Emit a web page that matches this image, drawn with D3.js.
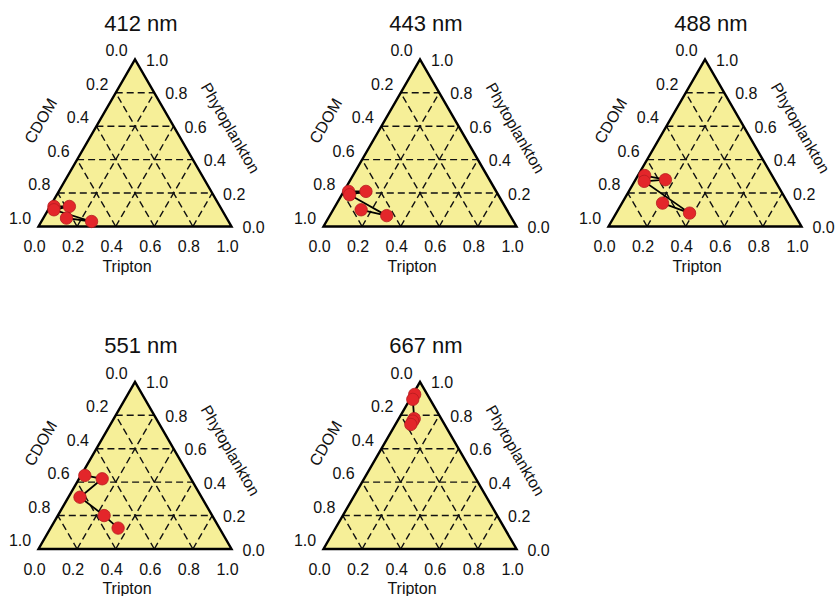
<!DOCTYPE html>
<html>
<head>
<meta charset="utf-8">
<script src="https://cdn.jsdelivr.net/npm/d3@7"></script>
<style>
  html, body { margin: 0; padding: 0; background: #ffffff; }
  svg { display: block; }
  text { font-family: "Liberation Sans", Arial, sans-serif; fill: #111; }
</style>
</head>
<body>
<svg id="chart" width="837" height="596"></svg>
<script>
// ---------------- data ----------------
const wavelengths = ["412 nm", "443 nm", "488 nm", "551 nm", "667 nm"];
const tickValues = [0, 0.2, 0.4, 0.6, 0.8, 1.0];
const tickLabels = ["0.0", "0.2", "0.4", "0.6", "0.8", "1.0"];
const axisNames = ["CDOM", "Tripton", "Phytoplankton"];

// fractions of absorption (CDOM, Tripton, Phytoplankton) per wavelength, in path order
const cdom412 = [0.86, 0.78, 0.87, 0.71, 0.83];
const tripton412 = [0.02, 0.10, 0.03, 0.26, 0.12];
const phyto412 = [0.12, 0.12, 0.10, 0.03, 0.05];

const cdom443 = [0.765, 0.675, 0.77, 0.64, 0.755];
const tripton443 = [0.025, 0.115, 0.04, 0.295, 0.145];
const phyto443 = [0.21, 0.21, 0.19, 0.065, 0.10];

const cdom488 = [0.66, 0.565, 0.68, 0.54, 0.65];
const tripton488 = [0.035, 0.155, 0.05, 0.38, 0.21];
const phyto488 = [0.305, 0.28, 0.27, 0.08, 0.14];

const cdom551 = [0.54, 0.46, 0.63, 0.56, 0.525];
const tripton551 = [0.02, 0.12, 0.06, 0.24, 0.35];
const phyto551 = [0.44, 0.42, 0.31, 0.20, 0.125];

const cdom667 = [0.065, 0.09, 0.14, 0.155, 0.175];
const tripton667 = [0.01, 0.015, 0.08, 0.08, 0.08];
const phyto667 = [0.925, 0.895, 0.78, 0.765, 0.745];

const seriesTripton = [tripton412, tripton443, tripton488, tripton551, tripton667];
const seriesPhyto = [phyto412, phyto443, phyto488, phyto551, phyto667];
const seriesCdom = [cdom412, cdom443, cdom488, cdom551, cdom667];

// ---------------- layout ----------------
const panelCx = [135, 420, 705, 135, 420];
const panelBase = [226.5, 226.5, 226.5, 549, 549];
const W = 193;
const H = W * Math.sqrt(3) / 2;

const svg = d3.select("#chart");

wavelengths.forEach((name, i) => {
  const left = panelCx[i] - W / 2;
  const base = panelBase[i];
  const xs = d3.scaleLinear().domain([0, 1]).range([left, left + W]);
  const ys = d3.scaleLinear().domain([0, 1]).range([base, base - H]);
  // ternary -> screen (tripton t, phyto p)
  const px = (t, p) => xs(t + p / 2);
  const py = (t, p) => ys(p);

  const g = svg.append("g");

  const tri = [[0, 0], [1, 0], [0, 1]];
  const line = d3.line().x(d => px(d[0], d[1])).y(d => py(d[0], d[1]));
  g.append("path")
    .attr("d", line(tri) + "Z")
    .attr("fill", "#f6ef98")
    .attr("stroke", "none");

  // grid lines
  const grid = g.append("g")
    .attr("stroke", "#111")
    .attr("stroke-width", 1.4)
    .attr("stroke-dasharray", "7,4")
    .attr("fill", "none");
  tickValues.slice(1, -1).forEach(v => {
    grid.append("path").attr("d", line([[0, v], [1 - v, v]]));
    grid.append("path").attr("d", line([[v, 0], [v, 1 - v]]));
    grid.append("path").attr("d", line([[1 - v, 0], [0, 1 - v]]));
  });

  // triangle border
  g.append("path")
    .attr("d", line(tri) + "Z")
    .attr("fill", "none")
    .attr("stroke", "#000")
    .attr("stroke-width", 2.4)
    .attr("stroke-linejoin", "miter");

  // tick labels
  const ticks = g.append("g").attr("font-size", 16).attr("text-anchor", "middle");
  tickValues.forEach((v, k) => {
    ticks.append("text")
      .attr("x", px(v, 0) - 4)
      .attr("y", base + 20)
      .attr("dominant-baseline", "central")
      .text(tickLabels[k]);
    ticks.append("text")
      .attr("x", px(0, 1 - v) - 18.5)
      .attr("y", py(0, 1 - v) - 8.5)
      .attr("dominant-baseline", "central")
      .text(tickLabels[k]);
    ticks.append("text")
      .attr("x", px(1 - v, v) + 22)
      .attr("y", py(1 - v, v) + 1)
      .attr("dominant-baseline", "central")
      .text(tickLabels[k]);
  });

  // axis names
  const lm = [px(0, 0.5), py(0, 0.5)];
  g.append("text")
    .attr("font-size", 16)
    .attr("text-anchor", "middle")
    .attr("dominant-baseline", "central")
    .attr("transform", `translate(${lm[0] - 46},${lm[1] - 22}) rotate(-60)`)
    .text(axisNames[0]);
  g.append("text")
    .attr("font-size", 16)
    .attr("text-anchor", "middle")
    .attr("x", xs(0.5) - 8)
    .attr("y", base + 45)
    .text(axisNames[1]);
  const rm = [px(0.5, 0.5), py(0.5, 0.5)];
  g.append("text")
    .attr("font-size", 16)
    .attr("text-anchor", "middle")
    .attr("dominant-baseline", "central")
    .attr("transform", `translate(${rm[0] + 47},${rm[1] - 15}) rotate(60)`)
    .text(axisNames[2]);

  // title
  g.append("text")
    .attr("font-size", 22)
    .attr("text-anchor", "middle")
    .attr("x", xs(0.5) + 6)
    .attr("y", base - H - 28.5)
    .text(name);

  // data path and points
  const pts = seriesTripton[i].map((t, k) => ({ t: t, p: seriesPhyto[i][k], c: seriesCdom[i][k] }));
  g.append("path")
    .attr("d", d3.line().x(d => px(d.t, d.p)).y(d => py(d.t, d.p))(pts))
    .attr("fill", "none")
    .attr("stroke", "#000")
    .attr("stroke-width", 1.8);
  g.selectAll("circle.pt")
    .data(pts)
    .join("circle")
    .attr("class", "pt")
    .attr("cx", d => px(d.t, d.p))
    .attr("cy", d => py(d.t, d.p))
    .attr("r", 6.2)
    .attr("fill", "#e3262a")
    .attr("stroke", "#b51d20")
    .attr("stroke-width", 0.8);
});
</script>
</body>
</html>
